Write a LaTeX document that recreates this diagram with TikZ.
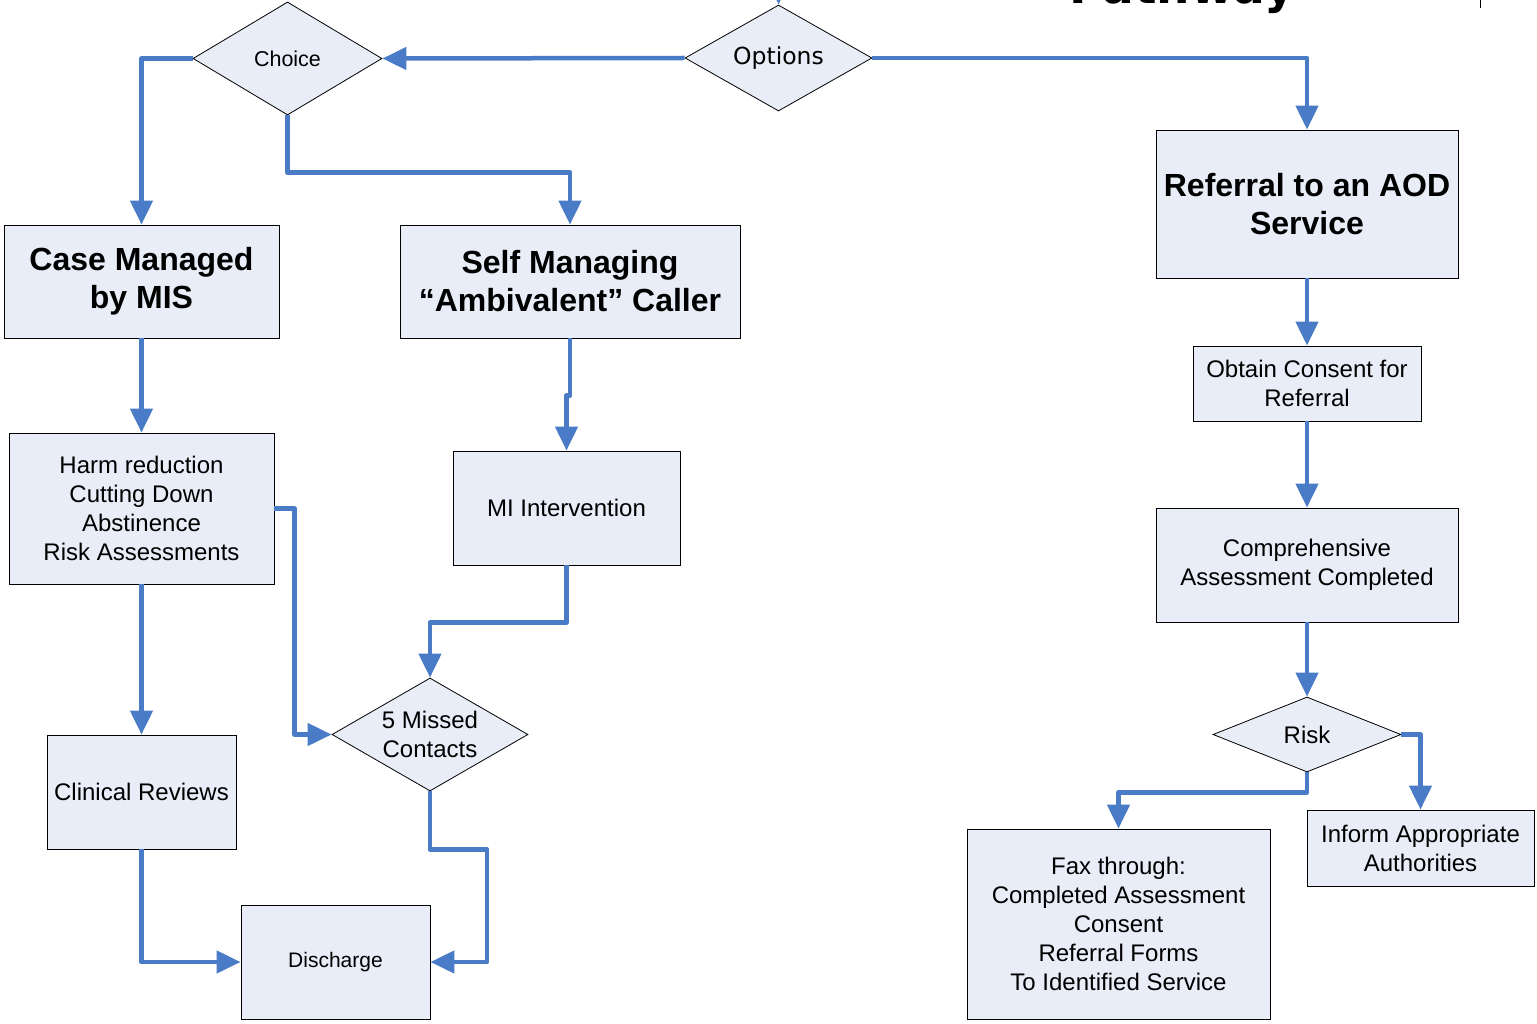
\documentclass[tikz,border=0pt]{standalone}
\usepackage{fontspec}
\setmainfont{Liberation Sans}
\newfontfamily\verdfont{DejaVu Sans}
\usetikzlibrary{shapes.geometric,arrows.meta}
\definecolor{boxfill}{HTML}{E8EDF7}
\definecolor{flowblue}{HTML}{4A7BC6}
\begin{document}
\begin{tikzpicture}[x=1pt,y=-1pt,
  box/.style={draw=black,line width=0.8pt,fill=boxfill,inner sep=0pt,align=center,
    font=\fontsize{24}{29}\selectfont},
  bigbox/.style={box,font=\fontsize{32}{38}\selectfont\bfseries},
  decision/.style={diamond,draw=black,line width=0.8pt,fill=boxfill,inner sep=0pt},
  dtext/.style={align=center,inner sep=0pt,font=\fontsize{24}{29}\selectfont},
  flow/.style={draw=flowblue,line width=4.5pt,line join=round,-{Triangle[width=22pt,length=24pt]}}]
\clip (0,0) rectangle (1537,1024);
\fill[white] (0,0) rectangle (1537,1024);
\node[anchor=base west,font=\verdfont\fontsize{47}{47}\selectfont\bfseries] (title) at (1066,4) {Pathway};
\coordinate (tickA) at (1480,0);
\coordinate (tickB) at (1480,8);
\draw[line width=1pt] (tickA) -- (tickB);

% decisions
\node[decision,minimum width=187pt,minimum height=106pt] (options) at (778.5,58) {};
\node[dtext,font=\verdfont\fontsize{23.5}{29}\selectfont] (optionstext) at (options.center) {Options};
\node[decision,minimum width=189pt,minimum height=113pt] (choice) at (287.5,58.5) {};
\node[dtext,font=\fontsize{21.5}{29}\selectfont] (choicetext) at (choice.center) {Choice};
\node[decision,minimum width=196pt,minimum height=113pt] (missed) at (430,734.5) {};
\node[dtext] (missedtext) at (missed.center) {5 Missed\\Contacts};
\node[decision,minimum width=188pt,minimum height=75pt] (risk) at (1307,734.5) {};
\node[dtext] (risktext) at (risk.center) {Risk};

% boxes
\node[bigbox,minimum width=275pt,minimum height=113pt] (case) at (141.5,281.5) {Case Managed\\by MIS};
\node[bigbox,minimum width=340pt,minimum height=113pt] (self) at (570,281.5) {Self Managing\\“Ambivalent” Caller};
\node[bigbox,minimum width=302pt,minimum height=148pt] (referral) at (1307,204) {Referral to an AOD\\Service};
\node[box,minimum width=265pt,minimum height=151pt] (harm) at (141.5,508.5) {Harm reduction\\Cutting Down\\Abstinence\\Risk Assessments};
\node[box,minimum width=227pt,minimum height=114pt] (mi) at (566.5,508) {MI Intervention};
\node[box,minimum width=189pt,minimum height=114pt] (clinical) at (141.5,792) {Clinical Reviews};
\node[box,minimum width=189pt,minimum height=114pt,font=\fontsize{21}{29}\selectfont] (discharge) at (335.5,962) {Discharge};
\node[box,minimum width=228pt,minimum height=75pt] (obtain) at (1307,383.5) {Obtain Consent for\\Referral};
\node[box,minimum width=302pt,minimum height=114pt] (comp) at (1307,565) {Comprehensive\\Assessment Completed};
\node[box,minimum width=303pt,minimum height=190pt] (fax) at (1118.5,924) {Fax through:\\Completed Assessment\\Consent\\Referral Forms\\To Identified Service};
\node[box,minimum width=227pt,minimum height=76pt] (inform) at (1420.5,848) {Inform Appropriate\\Authorities};

% connectors
\coordinate (optIn) at (778.5,-12);
\draw[flow] (optIn) -- (options.north);
\draw[flow] (options.west) -- (choice.east);
\draw[flow] (options.east) -| (referral.north);
\draw[flow] (choice.west) -| (case.north);
\draw[flow] (choice.south) -- ++(0,57) -| (self.north);
\draw[flow] (case.south) -- (harm.north);
\draw[flow] (self.south) -- ++(0,57) -| (mi.north);
\draw[flow] (harm.east) -- ++(20,0) |- (missed.west);
\draw[flow] (harm.south) -- (clinical.north);
\draw[flow] (mi.south) -- ++(0,57) -| (missed.north);
\draw[flow] (clinical.south) |- (discharge.west);
\draw[flow] (missed.south) -- ++(0,58) -- ++(57,0) |- (discharge.east);
\draw[flow] (referral.south) -- (obtain.north);
\draw[flow] (obtain.south) -- (comp.north);
\draw[flow] (comp.south) -- (risk.north);
\draw[flow] (risk.south) -- ++(0,20) -| (fax.north);
\draw[flow] (risk.east) -| (inform.north);
\end{tikzpicture}
\end{document}
